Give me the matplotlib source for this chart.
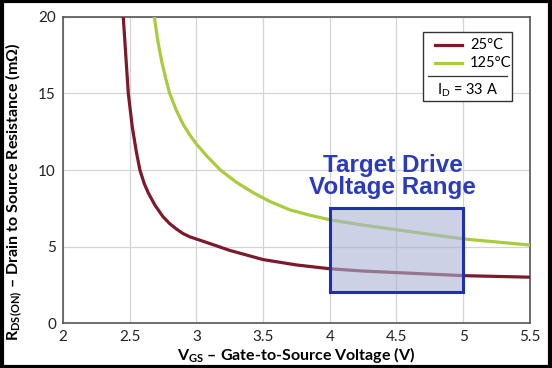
import matplotlib
matplotlib.use("Agg")
from matplotlib import pyplot as plt
from matplotlib.patches import Rectangle
from matplotlib import font_manager
import numpy as np

# condensed-looking font if we have one, else Lato
names = set(f.name for f in font_manager.fontManager.ttflist)
main_font = 'Liberation Sans Narrow' if 'Liberation Sans Narrow' in names else 'Lato'
plt.rcParams['font.family'] = [main_font, 'DejaVu Sans']
plt.rcParams['mathtext.fontset'] = 'custom'
plt.rcParams['mathtext.rm'] = main_font
plt.rcParams['mathtext.bf'] = main_font + ':bold'

# curves
vgs_25 = [2.452, 2.465, 2.49, 2.52, 2.55, 2.577, 2.61, 2.64, 2.69, 2.75, 2.8, 2.85, 2.9,
          2.95, 3.1, 3.25, 3.5, 3.75, 4.0, 4.25, 4.5, 4.75, 5.0, 5.25, 5.5]
rds_25 = [20.0, 18.3, 15.0, 12.8, 11.2, 10.0, 9.1, 8.5, 7.7, 6.95, 6.5, 6.15, 5.85,
          5.64, 5.2, 4.75, 4.15, 3.8, 3.55, 3.4, 3.3, 3.2, 3.1, 3.05, 3.0]
vgs_125 = [2.685, 2.71, 2.74, 2.77, 2.8, 2.85, 2.9, 2.95, 3.0, 3.08, 3.18, 3.3, 3.43, 3.55,
           3.7, 3.85, 4.0, 4.25, 4.5, 4.75, 5.0, 5.25, 5.5]
rds_125 = [20.0, 18.5, 17.1, 16.0, 15.0, 13.9, 13.0, 12.3, 11.7, 10.9, 10.0, 9.2, 8.5, 7.95,
           7.4, 7.05, 6.75, 6.4, 6.1, 5.8, 5.5, 5.3, 5.1]

x_ticks = [2, 2.5, 3, 3.5, 4, 4.5, 5, 5.5]
y_ticks = [0, 5, 10, 15, 20]
target_v = [4.0, 5.0]
target_r = [2.0, 7.5]

fig = plt.figure(figsize=(5.52, 3.68), dpi=100)
ax = fig.add_axes([0.114, 0.122, 0.846, 0.832])

ax.plot(vgs_25, rds_25, color='#7b1a2c', lw=2.3, zorder=3, solid_joinstyle='round')
ax.plot(vgs_125, rds_125, color='#a9cc3f', lw=2.3, zorder=3, solid_joinstyle='round')

# target drive box
w = target_v[1] - target_v[0]
h = target_r[1] - target_r[0]
ax.add_patch(Rectangle((target_v[0], target_r[0]), w, h,
                       facecolor='#aab3d4', alpha=0.6, edgecolor='none', zorder=4))
ax.add_patch(Rectangle((target_v[0], target_r[0]), w, h,
                       facecolor='none', edgecolor='#1f2fb0', lw=2.2, zorder=5))
ax.text(4.47, 9.6, 'Target Drive\nVoltage Range', color='#2b3bc0', fontsize=17.5,
        fontweight='bold', family='Liberation Sans', ha='center', va='center',
        linespacing=0.95, zorder=6)

ax.set_xlim(2, 5.5)
ax.set_ylim(0, 20)
ax.set_xticks(x_ticks)
ax.set_xticklabels(['2', '2.5', '3', '3.5', '4', '4.5', '5', '5.5'])
ax.set_yticks(y_ticks)
ax.tick_params(length=0, labelsize=11, colors='#222222', pad=5)
ax.grid(True, color='#d4d4d4', lw=0.9)
ax.set_axisbelow(True)
for s in ax.spines.values():
    s.set_color('#555555')
    s.set_linewidth(1.2)

ax.set_xlabel(r'$\mathbf{V_{GS}}$ – Gate-to-Source Voltage (V)', fontsize=11.5,
              fontweight='bold', labelpad=1)
ax.set_ylabel(r'$\mathbf{R_{DS(ON)}}$ – Drain to Source Resistance (m$\mathbf{\Omega}$)', fontsize=11.5,
              fontweight='bold')
ax.yaxis.set_label_coords(-0.083, 0.43)

# legend box
ax.add_patch(Rectangle((0.771, 0.725), 0.19, 0.226, transform=ax.transAxes,
                       facecolor='white', edgecolor='#333333', lw=1.0, zorder=7))
ax.plot([0.797, 0.855], [0.907, 0.907], transform=ax.transAxes, color='#7b1a2c', lw=2.3, zorder=8)
ax.plot([0.797, 0.855], [0.848, 0.848], transform=ax.transAxes, color='#a9cc3f', lw=2.3, zorder=8)
ax.text(0.872, 0.907, '25°C', transform=ax.transAxes, fontsize=10.5, va='center', zorder=8)
ax.text(0.872, 0.848, '125°C', transform=ax.transAxes, fontsize=10.5, va='center', zorder=8)
ax.plot([0.782, 0.951], [0.806, 0.806], transform=ax.transAxes, color='#333333', lw=0.9, zorder=8)
ax.text(0.866, 0.762, r'I$_{\rm D}$ = 33 A', transform=ax.transAxes, fontsize=10.5,
        ha='center', va='center', zorder=8)

# outer frame
fig.patches.append(Rectangle((0.003, 0.004), 0.994, 0.992, transform=fig.transFigure,
                             facecolor='none', edgecolor='black', lw=3))

plt.savefig('out.png', dpi=100)
